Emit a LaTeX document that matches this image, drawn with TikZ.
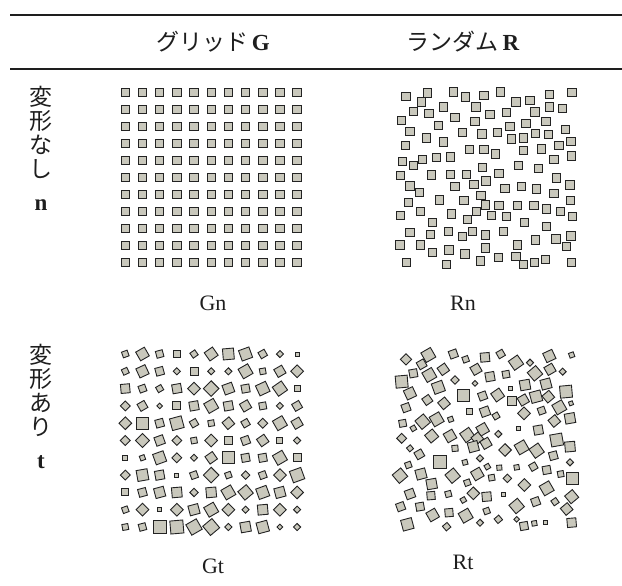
\documentclass[tikz,border=0pt]{standalone}
\usepackage{fontspec}
\setmainfont{Liberation Serif}
\newfontfamily\jpfont{Noto Sans CJK JP}
\definecolor{sqfill}{RGB}{201,200,188}
\definecolor{sqline}{RGB}{35,35,35}
\definecolor{txt}{RGB}{30,30,30}
\newcommand\rsq[4]{\draw[sq, shift={({#1},{#2})}, rotate=#4] (-#3/2,-#3/2) -- (#3/2,-#3/2) -- (#3/2,#3/2) -- (-#3/2,#3/2) -- cycle;}
\begin{document}
\begin{tikzpicture}[x=1pt,y=-1pt,
  sq/.style={fill=sqfill, draw=sqline, line width=0.9pt},
  head/.style={font=\jpfont\fontsize{23}{23}\selectfont, text=txt, inner sep=0pt},
  side/.style={font=\jpfont\fontsize{23}{24}\selectfont, text=txt, align=center, inner sep=0pt},
  caplabel/.style={font=\fontsize{22}{22}\selectfont, text=txt, inner sep=0pt}]
\useasboundingbox (0,0) rectangle (622,586);
% rules
\draw[line width=1.5pt, txt] (10,15) -- (622,15);
\draw[line width=2pt, txt] (10,69) -- (622,69);
% headers
\node[head] (hG) at (213,42) {グリッド\,{\rmfamily\bfseries G}};
\node[head] (hR) at (463,42) {ランダム\,{\rmfamily\bfseries R}};
% row labels
\node[side, anchor=north] (ln) at (41,86) {変\\形\\な\\し\\[9pt]{\rmfamily\bfseries n}};
\node[side, anchor=north] (lt) at (41,344) {変\\形\\あ\\り\\[9pt]{\rmfamily\bfseries t}};
% captions
\node[caplabel] (cGn) at (213,303) {Gn};
\node[caplabel] (cRn) at (463,303) {Rn};
\node[caplabel] (cGt) at (213,566) {Gt};
\node[caplabel] (cRt) at (463,562) {Rt};
% Gn grid
\foreach \i in {0,...,10}{
  \foreach \j in {0,...,10}{
    \rsq{125.3+17.18*\i}{92.5+17.0*\j}{8.5}{0}
  }
}
% Rn random
\foreach \x/\y in {406/96.3,427.7/93,453.3/92,465.7/97,484/95.3,421.7/102,413.3/111.3,429/113.7,443.3/107,476/107,401.7/120.3,455/117.3,475/121.3,438.3/125.7,410/131.3,462.7/132.3,482/134,426.7/138,443.3/142,405.7/145.3,469.3/149.7,484/149.7,402.7/161.3,413.3/165.7,422.7/159.7,436.7/157.3,450.7/157,482.5/167.3,400.7/175.5,431.7/175,450.7/174.5,466.7/174.5,
500.7/92,516/102,530/100.7,549.3/94.7,572/92.7,490/114.7,506.7/112.3,535/112,549.3/107,562.7/108.7,510/126.3,526/123.7,546/121.7,497.3/132.3,511.7/139,523.3/138,535.7/133.7,548.3/134.7,565.3/129.7,495.7/154,523.3/150.7,541.3/149,559/145.7,571/141.3,554/159.3,571.3/156,499/173.5,518.7/165.7,538.7/168.7,556.7/178,
410/186,419.3/192.3,455/186.7,474/184.3,481/195.7,408.3/202.3,439.3/200,464/200.7,485.5/205,420.7/211.7,451.7/214,476.7/211.7,400.7/215.7,432.3/222.3,467.7/219.3,410/232.7,430.7/234.3,448.3/231.7,462.7/236.7,472.7/231.7,485.5/235,400/245,420.7/245,432.3/252.7,449/250,465/254,485.5/247.8,406.7/262.3,446.7/264.3,480.5/261,
486/181,505/188.3,521.7/186.7,536.7/189,554/193.3,570/185,499/205.7,517.7/205.7,534/205.7,546.7/209,560.7/211.7,570.3/200.3,572.7/216.7,491.7/215.7,506.7/216.7,524.7/222.7,546.7/226.7,503.3/231.7,517.3/245,535.7/240,556/239,571/236,566.7/246.7,498.3/257.3,516/256.7,523.3/264.3,534.3/262.3,545.3/259.7,571.7/262.3}{
  \rsq{\x}{\y}{8.3}{0}
}
% Gt grid
\foreach \row [count=\j from 0] in {
{6/20,10/30,7/15,7/0,6/35,10/35,11/5,11/20,7/30,5/45,4/0},
{6/25,10/25,8/15,5/45,8/0,5/45,5/45,11/30,6/10,9/30,9/45},
{9/5,7/20,6/30,9/10,9/45,11/45,10/20,8/10,11/25,11/35,6/0},
{7/45,8/30,4/45,8/0,9/10,11/30,9/10,9/30,7/10,5/45,8/30},
{9/45,12/0,8/15,12/15,7/30,6/10,9/40,7/30,7/45,11/30,9/30},
{7/45,10/45,9/20,7/45,6/10,9/45,8/0,8/20,9/35,6/0,5/45},
{5/0,5/20,11/20,7/45,5/45,9/35,12/0,8/10,8/10,11/30,8/0},
{7/45,11/10,9/10,4/0,7/20,11/45,6/20,6/45,7/20,9/45,12/20},
{7/0,8/15,10/15,10/5,6/45,10/5,11/30,11/40,11/20,10/15,9/45},
{6/20,9/45,4/0,9/45,10/15,11/30,9/45,5/45,10/5,9/45,5/45},
{6/10,7/15,13/0,13/5,12/30,12/40,5/45,10/10,11/15,4/45,5/45}}{
  \foreach \s/\r [count=\i from 0] in \row {
    \rsq{125.3+17.18*\i}{354+17.3*\j}{\s}{\r}
  }
}
% Rt random (crop coordinates, 1/3 scale)
\foreach \cx/\cy/\s/\r in {108/88/8/45,175/75/11/30,155/103/8/30,250/72/8/20,287/88/6/20,345/82/9/5,392/72/7/30,438/98/11/35,480/98/5/45,538/78/10/25,605/75/5/20,
130/130/8/10,178/135/11/30,220/118/9/35,318/118/9/30,360/140/9/10,408/133/7/10,495/130/11/40,540/118/9/30,578/125/5/45,
95/155/12/5,255/150/6/45,315/160/4/45,205/172/11/20,120/190/10/25,280/195/12/0,338/198/8/20,383/195/10/35,420/175/4/0,465/165/10/10,528/162/10/15,588/185/12/5,
498/200/11/15,425/213/9/0,460/210/9/30,535/200/9/40,603/220/4/20,172/210/8/35,222/220/9/40,108/233/8/20,345/245/9/20,298/245/6/0,378/258/6/30,462/250/9/45,515/242/7/20,568/232/11/30,600/265/10/10,
158/275/11/40,200/268/11/30,242/268/5/20,98/280/7/10,130/295/5/30,338/298/10/30,445/295/4/0,505/300/9/10,553/273/9/40,
95/325/7/45,185/318/10/40,240/318/10/30,292/315/11/35,322/325/9/40,348/340/9/30,310/350/10/15,385/312/5/45,560/330/12/10,600/350/10/5,
405/360/9/45,455/352/11/30,500/362/11/35,120/355/5/40,148/373/8/30,255/355/6/5,330/385/5/45,550/377/8/15,600/397/5/45,
210/397/13/0,115/405/6/20,285/397/5/15,352/410/5/30,388/413/5/5,440/412/5/10,490/410/7/30,530/420/8/10,572/432/6/10,608/445/12/0,
90/437/11/40,153/432/10/15,248/437/11/40,322/432/10/30,365/443/6/10,412/445/6/45,463/465/9/45,185/462/10/10,292/458/6/20,530/475/11/30,
120/492/9/20,183/497/8/5,235/492/6/15,310/490/9/45,350/500/9/5,400/492/4/0,280/510/5/30,497/515/8/20,555/515/6/35,605/500/10/40,
92/530/8/20,150/530/8/10,188/555/10/30,237/548/8/5,287/557/11/30,350/543/6/20,440/528/11/40,590/537/9/40,385/568/6/40,440/568/4/45,330/578/5/45,
112/583/11/15,230/590/6/40,462/588/8/10,493/580/5/10,525/577/4/0,605/578/9/5}{
  \rsq{370+\cx/3}{330+\cy/3}{\s}{\r}
}
\end{tikzpicture}
\end{document}
